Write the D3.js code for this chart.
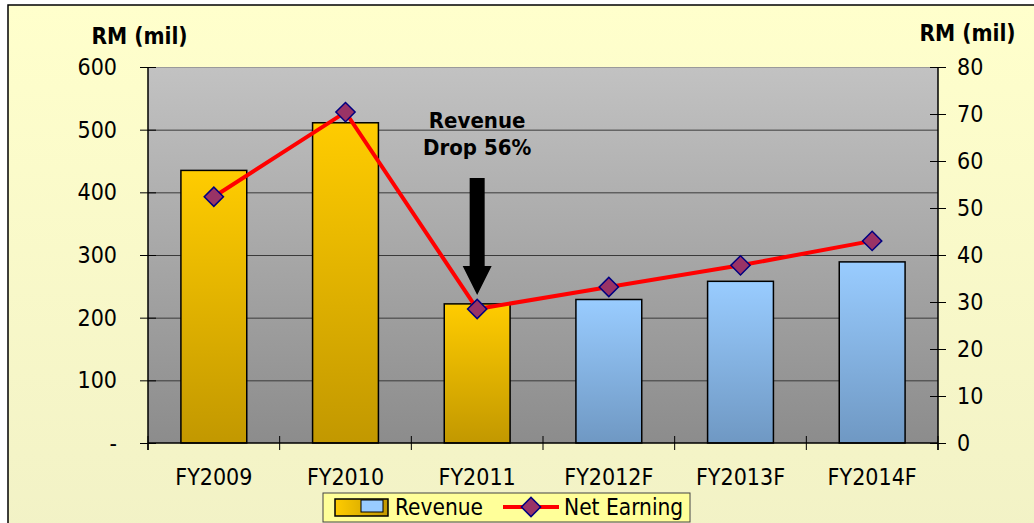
<!DOCTYPE html>
<html><head><meta charset="utf-8">
<script src="https://cdn.jsdelivr.net/npm/d3@7"></script>
<style>body{margin:0;background:#fff}svg{display:block}text{font-family:"DejaVu Sans Condensed","DejaVu Sans",Verdana,sans-serif;font-stretch:condensed}</style>
</head><body><svg id="c" width="1034" height="523"></svg>
<script>
const categories=["FY2009","FY2010","FY2011","FY2012F","FY2013F","FY2014F"];
const revenue=[435,511,222,229,258,289];
const netEarning=[52.4,70.4,28.5,33.2,37.8,43];
const forecast=[false,false,false,true,true,true];
const leftTicks=[0,100,200,300,400,500,600];
const rightTicks=[0,10,20,30,40,50,60,70,80];

const FONT='"DejaVu Sans Condensed","DejaVu Sans",sans-serif';
const svg=d3.select("#c");
const defs=svg.append("defs");
function vgrad(id,c1,c2,horiz){const g=defs.append("linearGradient").attr("id",id).attr("x1",0).attr("y1",0).attr("x2",horiz?1:0).attr("y2",horiz?0:1);g.append("stop").attr("offset","0%").attr("stop-color",c1);g.append("stop").attr("offset","100%").attr("stop-color",c2);}
vgrad("bg","#ffffcc","#f2f2c6");
vgrad("plot","#c2c2c2","#8c8c8c");
vgrad("yel","#ffcc00","#c29800");
vgrad("blu","#99ccff","#6f98c3");
vgrad("yelh","#ffcc00","#c29800",true);

svg.append("rect").attr("x",8).attr("y",5).attr("width",1040).attr("height",530).attr("fill","url(#bg)").attr("stroke","#000").attr("stroke-width",1.5);

const L=148,R=938,T=67,B=443;
const x=d3.scaleBand().domain(categories).range([L,R]).paddingInner(0.5).paddingOuter(0.25);
const yL=d3.scaleLinear().domain([0,600]).range([B,T]);
const yR=d3.scaleLinear().domain([0,80]).range([B,T]);

svg.append("rect").attr("x",L).attr("y",T).attr("width",R-L).attr("height",B-T).attr("fill","url(#plot)");

// gridlines
svg.append("g").selectAll("line").data(leftTicks.filter(d=>d>0)).join("line")
 .attr("x1",L).attr("x2",R).attr("y1",d=>yL(d)+0.5).attr("y2",d=>yL(d)+0.5)
 .attr("stroke",d=>d===600?"#9a9a9a":"#3a3a3a").attr("stroke-width",1);

// bars
svg.append("g").selectAll("rect").data(categories).join("rect")
 .attr("x",d=>x(d)).attr("width",x.bandwidth())
 .attr("y",(d,i)=>yL(revenue[i])).attr("height",(d,i)=>B-yL(revenue[i]))
 .attr("fill",(d,i)=>forecast[i]?"url(#blu)":"url(#yel)")
 .attr("stroke","#000").attr("stroke-width",1.5);

// axes
const axL=d3.axisLeft(yL).tickValues(leftTicks).tickSize(0).tickFormat(d=>d===0?"-":d);
const gL=svg.append("g").attr("transform",`translate(${L},0)`).call(axL);
gL.select(".domain").remove();
gL.selectAll("text").attr("x",-31).attr("font-size",23).attr("fill","#000").attr("font-family",FONT);
gL.selectAll(".tick").append("line").attr("x1",-8).attr("x2",8).attr("stroke","#000");
svg.append("line").attr("x1",L).attr("x2",L).attr("y1",T).attr("y2",B+7).attr("stroke","#000").attr("stroke-width",1.5);

const axR=d3.axisRight(yR).tickValues(rightTicks).tickSize(0);
const gR=svg.append("g").attr("transform",`translate(${R},0)`).call(axR);
gR.select(".domain").remove();
gR.selectAll("text").attr("x",19).attr("font-size",23).attr("fill","#000").attr("font-family",FONT);
gR.selectAll(".tick").append("line").attr("x1",-8).attr("x2",8).attr("stroke","#000");
svg.append("line").attr("x1",R).attr("x2",R).attr("y1",T).attr("y2",B+7).attr("stroke","#000").attr("stroke-width",1.5);

const axB=d3.axisBottom(x).tickSize(0);
const gB=svg.append("g").attr("transform",`translate(0,${B})`).call(axB);
gB.select(".domain").remove();
gB.selectAll("text").attr("y",26).attr("dy","0.71em").attr("font-size",23).attr("fill","#000").attr("font-family",FONT);
svg.append("line").attr("x1",L).attr("x2",R).attr("y1",B).attr("y2",B).attr("stroke","#000").attr("stroke-width",1.5);
const bounds=categories.map(c=>x(c)-x.step()*x.paddingInner()/2).concat([R]);
svg.append("g").selectAll("line").data(bounds).join("line")
 .attr("x1",d=>d).attr("x2",d=>d).attr("y1",B-7).attr("y2",B+7).attr("stroke","#000");

// line
const line=d3.line().x((d,i)=>x(categories[i])+x.bandwidth()/2).y(d=>yR(d));
svg.append("path").datum(netEarning).attr("d",line).attr("fill","none").attr("stroke","#ff0000").attr("stroke-width",4);
const diamond=d3.symbol().type(d3.symbolSquare).size(185);
svg.append("g").selectAll("path").data(netEarning).join("path")
 .attr("d",diamond)
 .attr("transform",(d,i)=>`translate(${x(categories[i])+x.bandwidth()/2},${yR(d)}) rotate(45)`)
 .attr("fill","#993366").attr("stroke","#000080").attr("stroke-width",1.5);

// axis titles
svg.append("text").attr("x",139.5).attr("y",44).attr("text-anchor","middle").attr("font-weight","bold").attr("font-size",22.5).attr("font-family",FONT).text("RM (mil)");
svg.append("text").attr("x",967.5).attr("y",41).attr("text-anchor","middle").attr("font-weight","bold").attr("font-size",22.5).attr("font-family",FONT).text("RM (mil)");

// annotation
const ax=x("FY2011")+x.bandwidth()/2;
svg.append("text").attr("x",ax).attr("y",128).attr("text-anchor","middle").attr("font-weight","bold").attr("font-size",22).attr("font-family",FONT).text("Revenue");
svg.append("text").attr("x",ax).attr("y",155).attr("text-anchor","middle").attr("font-weight","bold").attr("font-size",22).attr("font-family",FONT).text("Drop 56%");
svg.append("path").attr("d",`M${ax-7.5},178 L${ax+7.5},178 L${ax+7.5},266 L${ax+14.5},266 L${ax},295 L${ax-14.5},266 L${ax-7.5},266 Z`).attr("fill","#000");

// legend
const lg=svg.append("g");
lg.append("rect").attr("x",323).attr("y",493).attr("width",367).attr("height",29).attr("fill","#ffff99").attr("stroke","#444").attr("stroke-width",1);
lg.append("rect").attr("x",335).attr("y",499).attr("width",53).attr("height",17).attr("fill","url(#yelh)").attr("stroke","#000").attr("stroke-width",1.5);
lg.append("rect").attr("x",361).attr("y",500).attr("width",22).attr("height",12).attr("fill","#99ccff").attr("stroke","#000").attr("stroke-width",1);
lg.append("text").attr("x",395).attr("y",515).attr("font-size",22.5).attr("font-family",FONT).text("Revenue");
lg.append("line").attr("x1",503).attr("x2",559).attr("y1",507).attr("y2",507).attr("stroke","#ff0000").attr("stroke-width",4);
lg.append("path").attr("d",diamond).attr("transform","translate(531,507) rotate(45)").attr("fill","#993366").attr("stroke","#000080").attr("stroke-width",1.5);
lg.append("text").attr("x",564).attr("y",515).attr("font-size",22.5).attr("font-family",FONT).text("Net Earning");
</script></body></html>
